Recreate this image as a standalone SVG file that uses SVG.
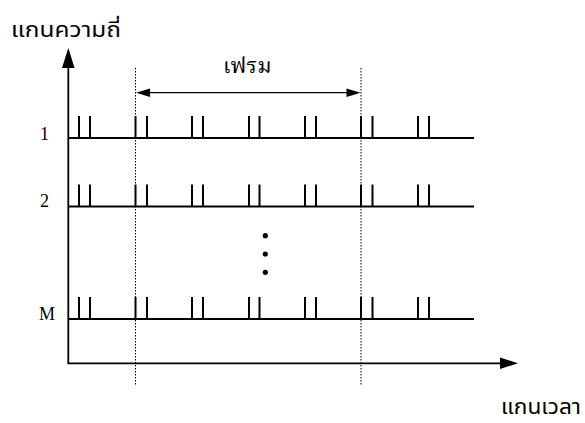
<svg xmlns="http://www.w3.org/2000/svg" width="585" height="423" viewBox="0 0 585 423">
<defs>
<style>
.ln{stroke:#000;stroke-width:2;fill:none}
.ax{stroke:#000;stroke-width:1.8;fill:none}
.dash{stroke:#000;stroke-width:1;stroke-dasharray:1.5 1.5;fill:none}
.thai{font-family:"Noto Sans Thai","Noto Sans","DejaVu Sans",sans-serif;font-size:21px;fill:#000}
.thaiserif{font-family:"Noto Serif Thai","Liberation Serif","Noto Sans Thai",serif;font-size:22px;fill:#000}
.lbl{font-family:"Liberation Serif",serif;font-size:18px;fill:#000}
</style>
<g id="pulses">
<path class="ln" d="M79 116V138M90 116V138M135.5 116V138M147 116V138M192 116V138M203 116V138M249 116V138M259.5 116V138M305 116V138M316 116V138M361 116V138M372.5 116V138M418 116V138M429 116V138"/>
</g>
</defs>
<g id="axes">
<line class="ax" x1="68.3" y1="66" x2="68.3" y2="363.5"/>
<polygon points="68.3,48 62,68 74.6,68"/>
<line class="ax" x1="67.5" y1="363.3" x2="502" y2="363.3"/>
<polygon points="518,363.3 500,357.5 500,369"/>
</g>
<g id="row1">
<line class="ln" x1="68" y1="138" x2="474" y2="138"/>
<use href="#pulses"/>
<text class="lbl" x="40" y="140">1</text>
</g>
<g id="row2">
<line class="ln" x1="68" y1="206.5" x2="474" y2="206.5"/>
<use href="#pulses" transform="translate(0,68.5)"/>
<text class="lbl" x="40" y="207">2</text>
</g>
<g id="rowM">
<line class="ln" x1="68" y1="319" x2="474" y2="319"/>
<use href="#pulses" transform="translate(0,181)"/>
<text class="lbl" x="39" y="320">M</text>
</g>
<g id="dots">
<circle cx="265.3" cy="235.7" r="2.6"/>
<circle cx="265.3" cy="254" r="2.6"/>
<circle cx="265.3" cy="272.3" r="2.6"/>
</g>
<g id="connectors">
<line class="dash" x1="135.5" y1="68" x2="135.5" y2="386"/>
<line class="dash" x1="361" y1="68" x2="361" y2="386"/>
<line stroke="#000" stroke-width="1.2" x1="148" y1="92.7" x2="348" y2="92.7"/>
<polygon points="136,92.7 150,88.5 150,97"/>
<polygon points="360.5,92.7 346.5,88.5 346.5,97"/>
</g>
<g id="labels">
<text class="thaiserif" x="223" y="73">เฟรม</text>
<text class="thai" x="11" y="37" textLength="110" lengthAdjust="spacingAndGlyphs">แกนความถี่</text>
<text class="thai" x="501" y="414" textLength="80" lengthAdjust="spacingAndGlyphs">แกนเวลา</text>
</g>
</svg>
